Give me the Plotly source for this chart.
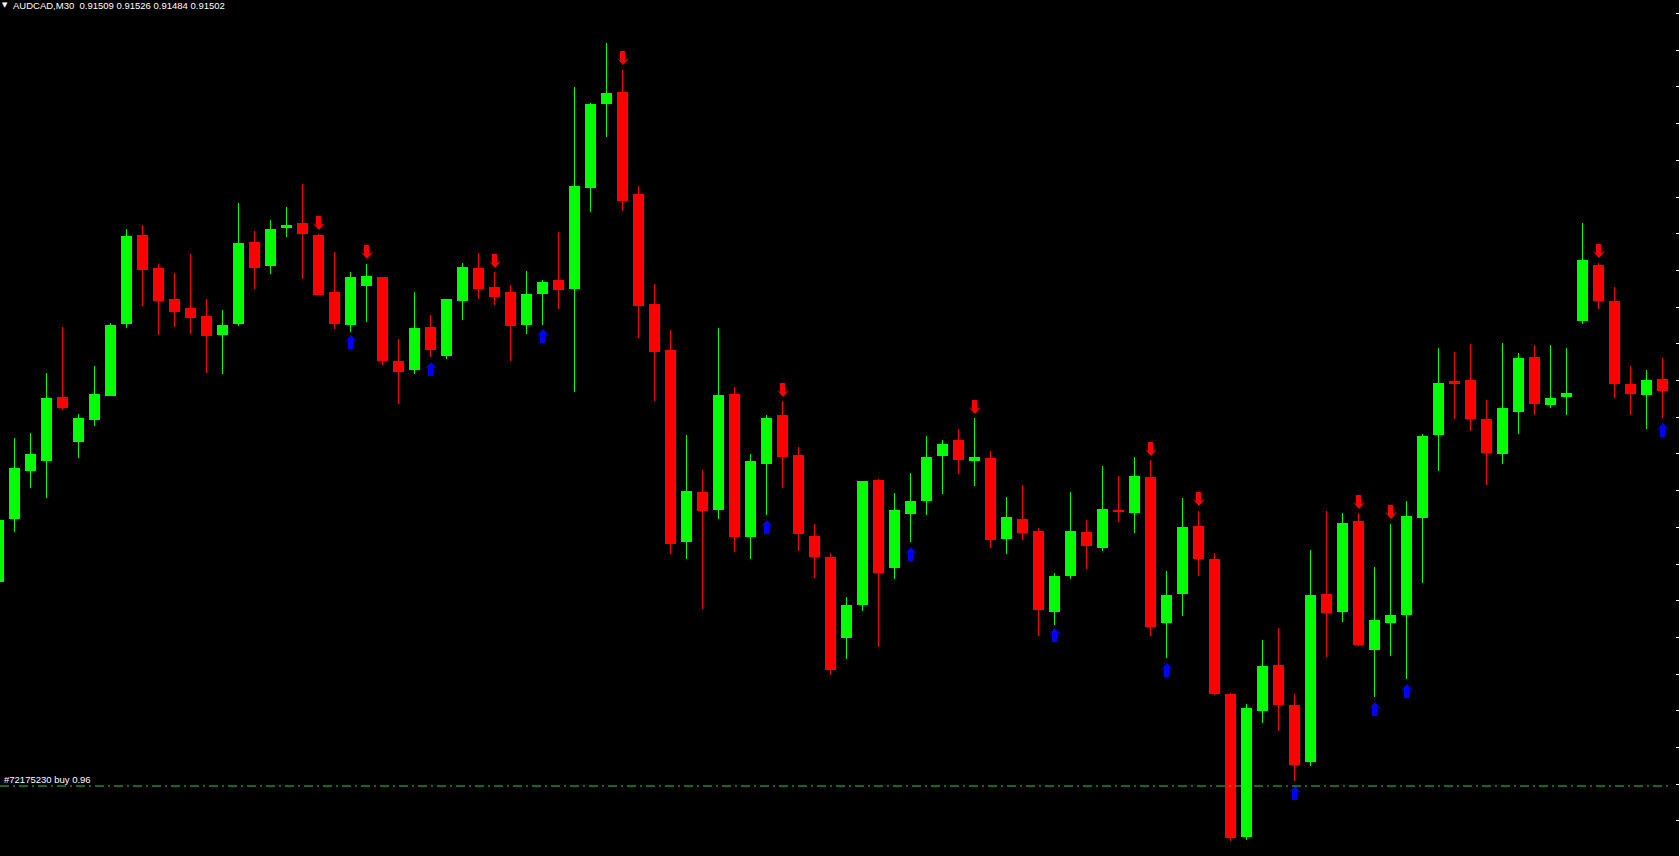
import plotly.graph_objects as go

# ---------------- data (prices in 1e-5 units, i.e. points) ----------------
symbol = "AUDCAD,M30"
header_ohlc = ["0.91509", "0.91526", "0.91484", "0.91502"]
order_label = "#72175230 buy 0.96"
buy_level_pts = 91107

bar_index = list(range(105))

open_pts = [91311, 91374, 91422, 91432, 91496, 91451, 91473, 91497, 91569, 91658,
            91625, 91594, 91585, 91577, 91558, 91569, 91651, 91627, 91665, 91670,
            91658, 91601, 91568, 91607, 91616, 91532, 91523, 91566, 91537, 91592,
            91625, 91606, 91601, 91568, 91599, 91613, 91604, 91705, 91789, 91801,
            91699, 91589, 91543, 91351, 91401, 91383, 91499, 91356, 91429, 91478,
            91438, 91357, 91336, 91255, 91288, 91413, 91325, 91379, 91392, 91437,
            91453, 91432, 91435, 91354, 91374, 91362, 91281, 91317, 91361, 91345,
            91383, 91380, 91416, 91270, 91299, 91367, 91334, 91199, 91056, 91182,
            91228, 91188, 91131, 91299, 91281, 91372, 91243, 91270, 91278, 91375,
            91458, 91512, 91513, 91474, 91439, 91481, 91536, 91488, 91496, 91572,
            91628, 91592, 91509, 91498, 91514]

high_pts = [91378, 91455, 91460, 91520, 91566, 91479, 91527, 91570, 91664, 91668,
            91629, 91620, 91639, 91594, 91583, 91690, 91662, 91673, 91686, 91709,
            91659, 91641, 91621, 91629, 91616, 91554, 91601, 91578, 91594, 91630,
            91640, 91621, 91608, 91622, 91613, 91661, 91806, 91790, 91850, 91823,
            91707, 91609, 91563, 91458, 91423, 91565, 91506, 91439, 91478, 91492,
            91446, 91369, 91340, 91296, 91412, 91414, 91400, 91420, 91457, 91453,
            91464, 91475, 91442, 91396, 91408, 91365, 91320, 91401, 91373, 91427,
            91417, 91436, 91433, 91322, 91395, 91382, 91340, 91200, 91189, 91253,
            91265, 91199, 91343, 91382, 91380, 91380, 91326, 91369, 91392, 91459,
            91545, 91541, 91549, 91493, 91550, 91540, 91548, 91548, 91545, 91670,
            91630, 91606, 91527, 91523, 91535]

low_pts = [91307, 91361, 91405, 91395, 91483, 91435, 91467, 91497, 91565, 91587,
           91558, 91566, 91559, 91520, 91519, 91567, 91604, 91619, 91656, 91614,
           91598, 91564, 91561, 91571, 91528, 91489, 91519, 91536, 91534, 91573,
           91594, 91588, 91532, 91559, 91568, 91584, 91501, 91681, 91756, 91682,
           91555, 91492, 91339, 91334, 91284, 91374, 91341, 91334, 91378, 91405,
           91342, 91315, 91218, 91234, 91282, 91246, 91314, 91351, 91378, 91399,
           91419, 91407, 91345, 91339, 91353, 91257, 91268, 91314, 91324, 91342,
           91371, 91360, 91257, 91235, 91277, 91317, 91198, 91052, 91053, 91170,
           91162, 91112, 91127, 91236, 91271, 91247, 91196, 91237, 91214, 91310,
           91422, 91474, 91462, 91408, 91429, 91459, 91478, 91485, 91478, 91569,
           91584, 91495, 91478, 91464, 91475]

close_pts = [91373, 91425, 91439, 91495, 91485, 91475, 91499, 91568, 91657, 91623,
             91592, 91581, 91575, 91557, 91568, 91650, 91625, 91664, 91668, 91659,
             91598, 91569, 91616, 91617, 91532, 91521, 91565, 91543, 91594, 91626,
             91604, 91596, 91567, 91599, 91611, 91603, 91707, 91789, 91800, 91692,
             91587, 91541, 91349, 91402, 91382, 91498, 91356, 91432, 91475, 91436,
             91359, 91336, 91223, 91288, 91412, 91320, 91383, 91392, 91436, 91449,
             91433, 91436, 91353, 91376, 91360, 91283, 91317, 91362, 91347, 91384,
             91381, 91417, 91266, 91298, 91366, 91334, 91199, 91055, 91185, 91227,
             91188, 91128, 91298, 91280, 91370, 91248, 91273, 91278, 91377, 91457,
             91510, 91509, 91474, 91440, 91485, 91535, 91489, 91495, 91500, 91633,
             91592, 91509, 91499, 91513, 91502]

# signal arrows (bar index, price level in points)
sell_arrow_index = [20, 23, 31, 39, 49, 61, 72, 75, 85, 87, 100]
sell_arrow_pts = [91670, 91641, 91632, 91835, 91503, 91486, 91444, 91394, 91391, 91381, 91642]
buy_arrow_index = [22, 27, 34, 48, 57, 66, 73, 81, 86, 88, 104]
buy_arrow_pts = [91551, 91524, 91557, 91366, 91339, 91258, 91223, 91100, 91184, 91202, 91463]

# ---------------- build ----------------
P = 1e-5
o = [v * P for v in open_pts]
h = [v * P for v in high_pts]
l = [v * P for v in low_pts]
c = [v * P for v in close_pts]

BULL = "#00FF00"
BEAR = "#FF0000"
colors = [BULL if cc >= oo else BEAR for oo, cc in zip(o, c)]

W, H = 1680, 856
plot_w = W - 1
px_per_bar = 16.0
x0 = 1.5 / px_per_bar
x1 = x0 + plot_w / px_per_bar
y_top = 0.91893
y_bot = y_top - H * P

fig = go.Figure()

# wicks
fig.add_trace(go.Bar(
    x=bar_index, base=l, y=[hh - ll for hh, ll in zip(h, l)],
    width=1.0 / px_per_bar, marker=dict(color=colors, line=dict(width=0)),
    hoverinfo="skip", showlegend=False))

# bodies
fig.add_trace(go.Bar(
    x=bar_index, base=[min(a, b) for a, b in zip(o, c)],
    y=[max(abs(b - a), 1.5 * P) for a, b in zip(o, c)],
    width=11.0 / px_per_bar, marker=dict(color=colors, line=dict(width=0)),
    customdata=list(zip(o, h, l, c)),
    hovertemplate="O %{customdata[0]:.5f}<br>H %{customdata[1]:.5f}<br>"
                  "L %{customdata[2]:.5f}<br>C %{customdata[3]:.5f}<extra></extra>",
    showlegend=False))

# arrow glyph outlines (pixel units relative to the anchor, y up)
UP_PATH = "M 0.5,7 L 6.5,0 L 2.5,2 L 2.5,-7 L -2.5,-7 L -2.5,2 L -5.5,0 Z"
DOWN_PATH = "M 0.5,-7 L 6.5,0 L 2.5,-2 L 2.5,7 L -2.5,7 L -2.5,-2 L -5.5,0 Z"


def add_arrows(idx, pts, path, color):
    for k, v in zip(idx, pts):
        fig.add_shape(type="path", xref="x", yref="y",
                      xsizemode="pixel", ysizemode="pixel",
                      xanchor=k, yanchor=v * P, path=path,
                      fillcolor=color, line=dict(width=0), layer="above")


add_arrows(sell_arrow_index, sell_arrow_pts, DOWN_PATH, "#FF0000")
add_arrows(buy_arrow_index, buy_arrow_pts, UP_PATH, "#0000FF")

buy_level = buy_level_pts * P
fig.add_shape(type="line", xref="paper", yref="y", x0=0, x1=0.995,
              y0=buy_level, y1=buy_level,
              line=dict(color="#32CD32", width=1, dash="9px,4px,2px,4px"))

nb = "\u00a0"
fig.add_annotation(xref="paper", yref="paper", x=0, y=1, xanchor="left", yanchor="top",
                   xshift=0, yshift=1, showarrow=False, text="\u25bc",
                   font=dict(family="DejaVu Sans", size=7, color="#FFFFFF"))
fig.add_annotation(xref="paper", yref="paper", x=0, y=1, xanchor="left", yanchor="top",
                   xshift=11, yshift=2, showarrow=False,
                   text=symbol + nb + nb + nb.join(header_ohlc),
                   font=dict(family="Liberation Sans", size=9.5, color="#FFFFFF"))
fig.add_annotation(xref="paper", yref="y", x=0, y=buy_level, xanchor="left", yanchor="bottom",
                   xshift=2, yshift=-1, showarrow=False, text=order_label,
                   font=dict(family="Liberation Sans", size=9.5, color="#FFFFFF"))

fig.update_layout(
    width=W, height=H,
    margin=dict(l=0, r=1, t=0, b=0, pad=0),
    paper_bgcolor="#000000", plot_bgcolor="#000000",
    barmode="overlay", bargap=0,
    xaxis=dict(range=[x0, x1], visible=False, fixedrange=True),
    yaxis=dict(range=[y_bot, y_top], side="right", showgrid=False, zeroline=False,
               showline=True, linecolor="#FFFFFF", linewidth=1,
               ticks="inside", ticklen=3, tickcolor="#FFFFFF", tickwidth=1,
               tick0=0.915125, dtick=0.000367, showticklabels=False, fixedrange=True),
    hovermode="closest",
)

fig.write_html("out.html", config={"displayModeBar": False},
               post_script="document.body.style.margin='0';document.body.style.overflow='hidden';")
